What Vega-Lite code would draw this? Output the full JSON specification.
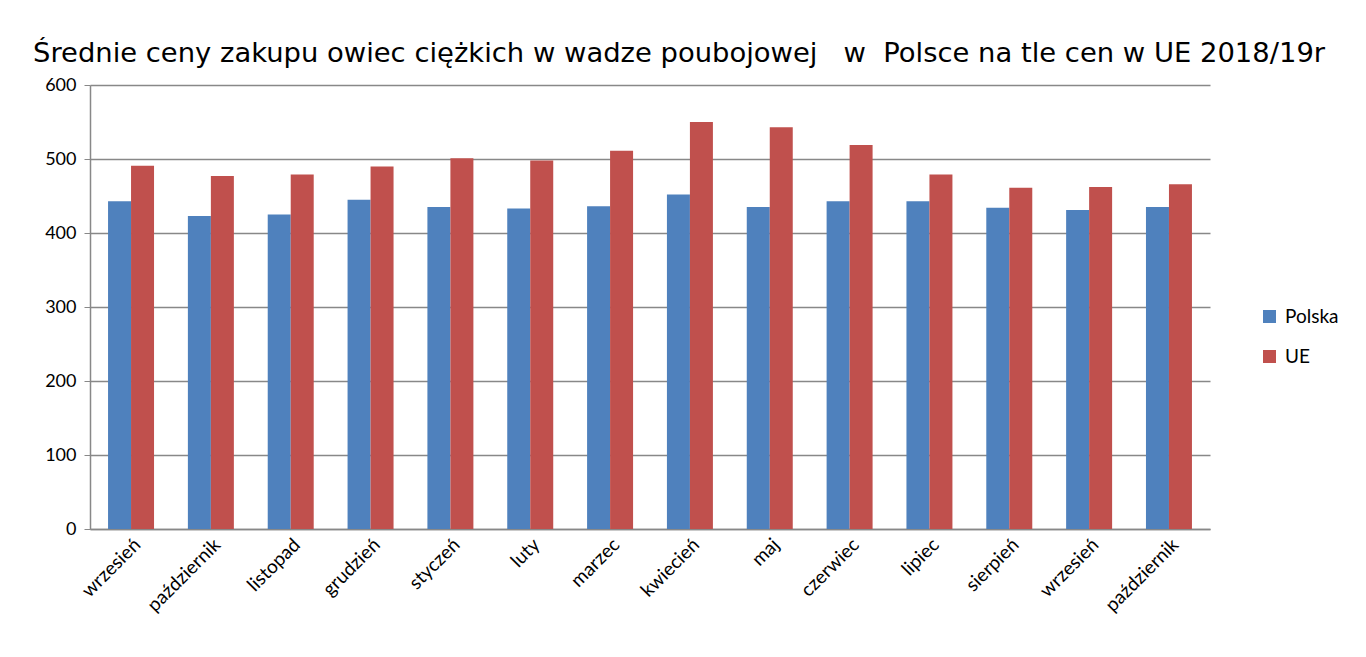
{
  "$schema": "https://vega.github.io/schema/vega-lite/v6.json",
  "width": 1120,
  "height": 444,
  "autosize": {"type": "none"},
  "padding": {"left": 90, "top": 85, "right": 156, "bottom": 128},
  "background": "white",
  "title": {
    "text": "Średnie ceny zakupu owiec ciężkich w wadze poubojowej \u00a0 w \u00a0Polsce na tle cen w UE 2018/19r",
    "anchor": "start",
    "frame": "group",
    "dx": -57,
    "offset": 9,
    "font": "DejaVu Sans",
    "fontSize": 27.4,
    "fontWeight": "normal",
    "color": "#000000"
  },
  "data": {
    "values": [
      {"m": "01 wrzesień", "s": "Polska", "v": 443},
      {"m": "01 wrzesień", "s": "UE", "v": 491},
      {"m": "02 październik", "s": "Polska", "v": 423},
      {"m": "02 październik", "s": "UE", "v": 477},
      {"m": "03 listopad", "s": "Polska", "v": 425},
      {"m": "03 listopad", "s": "UE", "v": 479},
      {"m": "04 grudzień", "s": "Polska", "v": 445},
      {"m": "04 grudzień", "s": "UE", "v": 490},
      {"m": "05 styczeń", "s": "Polska", "v": 435},
      {"m": "05 styczeń", "s": "UE", "v": 501},
      {"m": "06 luty", "s": "Polska", "v": 433},
      {"m": "06 luty", "s": "UE", "v": 498},
      {"m": "07 marzec", "s": "Polska", "v": 436},
      {"m": "07 marzec", "s": "UE", "v": 511},
      {"m": "08 kwiecień", "s": "Polska", "v": 452},
      {"m": "08 kwiecień", "s": "UE", "v": 550},
      {"m": "09 maj", "s": "Polska", "v": 435},
      {"m": "09 maj", "s": "UE", "v": 543},
      {"m": "10 czerwiec", "s": "Polska", "v": 443},
      {"m": "10 czerwiec", "s": "UE", "v": 519},
      {"m": "11 lipiec", "s": "Polska", "v": 443},
      {"m": "11 lipiec", "s": "UE", "v": 479},
      {"m": "12 sierpień", "s": "Polska", "v": 434},
      {"m": "12 sierpień", "s": "UE", "v": 461},
      {"m": "13 wrzesień", "s": "Polska", "v": 431},
      {"m": "13 wrzesień", "s": "UE", "v": 462},
      {"m": "14 październik", "s": "Polska", "v": 435},
      {"m": "14 październik", "s": "UE", "v": 466}
    ]
  },
  "mark": {"type": "bar"},
  "encoding": {
    "x": {
      "field": "m",
      "type": "nominal",
      "sort": "ascending",
      "title": null,
      "scale": {"paddingInner": 0.424, "paddingOuter": 0.226},
      "axis": {
        "labelExpr": "substring(datum.label, 3)",
        "labelAngle": -45,
        "labelAlign": "right",
        "labelBaseline": "top",
        "labelFont": "Lato",
        "labelFontSize": 19,
        "labelColor": "#000000",
        "labelPadding": 6,
        "ticks": false,
        "domainColor": "#888888",
        "domainWidth": 1.5
      }
    },
    "xOffset": {"field": "s", "type": "nominal", "scale": {"paddingInner": 0}},
    "y": {
      "field": "v",
      "type": "quantitative",
      "title": null,
      "scale": {"domain": [0, 600]},
      "axis": {
        "values": [0, 100, 200, 300, 400, 500, 600],
        "labelFont": "Lato",
        "labelFontSize": 18,
        "labelColor": "#000000",
        "labelPadding": 8,
        "tickColor": "#888888",
        "tickSize": 6,
        "domainColor": "#888888",
        "domainWidth": 1.5,
        "gridColor": "#888888",
        "gridWidth": 1.5
      }
    },
    "color": {
      "field": "s",
      "type": "nominal",
      "scale": {"domain": ["Polska", "UE"], "range": ["#4F81BD", "#C0504D"]},
      "legend": {
        "title": null,
        "orient": "none",
        "legendX": 1170,
        "legendY": 222,
        "symbolType": "square",
        "symbolSize": 169,
        "symbolStrokeWidth": 0,
        "labelFont": "Lato",
        "labelFontSize": 19,
        "labelColor": "#000000",
        "rowPadding": 20,
        "labelOffset": 6
      }
    }
  },
  "config": {
    "view": {"stroke": null}
  }
}
